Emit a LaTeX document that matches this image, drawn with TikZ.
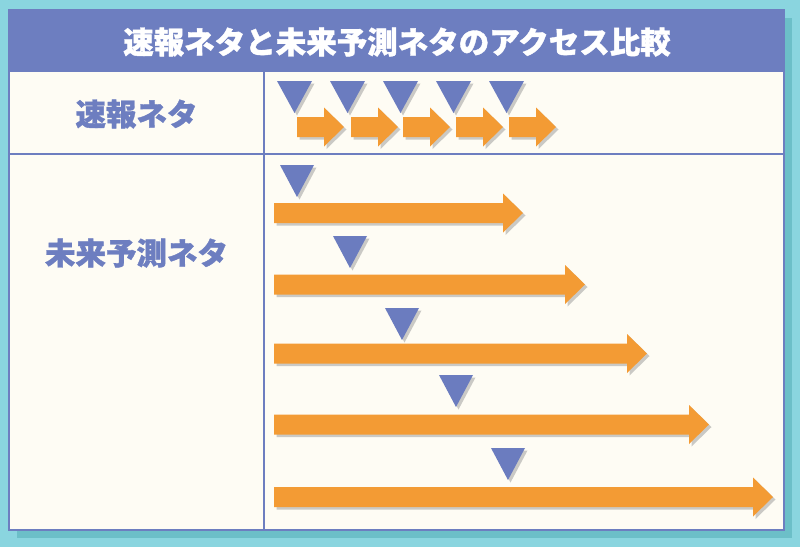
\documentclass[tikz,border=0pt]{standalone}
\usepackage{fontspec}
\newfontfamily\cjk{Noto Sans CJK JP}[BoldFeatures={FakeBold=1.2}]
\usetikzlibrary{shadows}
\definecolor{outer}{HTML}{8AD5DF}
\definecolor{outershadow}{HTML}{6CBFC8}
\definecolor{cardbg}{HTML}{FEFCF4}
\definecolor{hdr}{HTML}{6D7EC0}
\definecolor{orng}{HTML}{F39B34}
\definecolor{tri}{HTML}{6B7CBF}
\tikzset{
  shp/.style={drop shadow={shadow xshift=2.5pt,shadow yshift=-2.5pt,fill=black!45,opacity=0.45}},
  orarrow/.style={fill=orng,shp},
  trimark/.style={fill=tri,shp},
  lbl/.style={font=\cjk\bfseries\fontsize{30.5pt}{32pt}\selectfont,text=hdr,inner sep=0pt},
  divider/.style={draw=hdr,line width=1.6pt}
}
% arrow: start x, tip x, center y
\newcommand\ArrowAt[3]{%
  \path[orarrow] (#1,#3-10) -- (#2-20,#3-10) -- (#2-20,#3-19.5) -- (#2,#3) -- (#2-20,#3+19.5) -- (#2-20,#3+10) -- (#1,#3+10) -- cycle;}
% triangle: left x, top y, width, height
\newcommand\TriAt[4]{%
  \path[trimark] (#1,#2) -- (#1+#3,#2) -- (#1+#3/2,#2+#4) -- cycle;}
\begin{document}
\begin{tikzpicture}[x=1pt,y=-1pt]
\useasboundingbox (0,0) rectangle (800,547);
\fill[outer] (0,0) rectangle (800,547);
\fill[outershadow] (17,18) rectangle (792,538);
\fill[cardbg] (9,10) rectangle (784,530);
\fill[hdr] (9,10) rectangle (784,72);
\draw[hdr,line width=1.2pt] (9,10) rectangle (784,530);
\draw[divider] (9,154) -- (784,154);
\draw[divider] (264,72) -- (264,530);
\node[lbl,text=white] (title) at (397,42) {速報ネタと未来予測ネタのアクセス比較};
\node[lbl] (quick) at (136.5,114) {速報ネタ};
\node[lbl] (future) at (136.5,253) {未来予測ネタ};
% top row
\foreach \tl/\as/\at in {277/297/344, 330/351/398, 383/403/450, 436/456/503, 489/509/556}{
  \TriAt{\tl}{81}{35}{32}
  \ArrowAt{\as}{\at}{127}
}
% bottom rows
\foreach \tl/\tt/\at/\yc in {280/165/523/213, 333/236/585/284.5, 385/308/647/353.5, 439/375/709/424.5, 491/448/773/497}{
  \TriAt{\tl}{\tt}{34}{32}
  \ArrowAt{274}{\at}{\yc}
}
\end{tikzpicture}
\end{document}
